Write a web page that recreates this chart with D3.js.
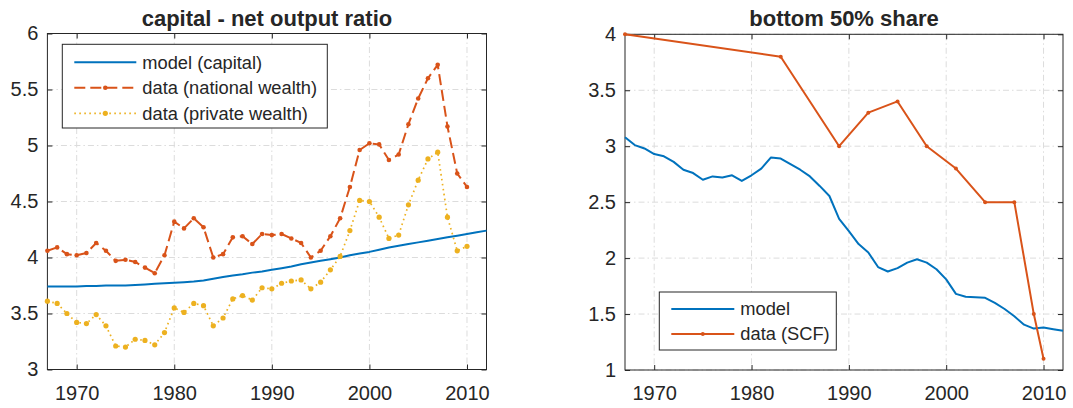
<!DOCTYPE html>
<html>
<head>
<meta charset="utf-8">
<script src="https://cdn.jsdelivr.net/npm/d3@7/dist/d3.min.js"></script>
<style>
  body { margin: 0; background: #fff; }
  svg text { font-family: "Liberation Sans", Arial, Helvetica, sans-serif; fill: #262626; }
</style>
</head>
<body>
<svg id="fig" width="1073" height="408"></svg>
<script>
// years 1967..2012 (model), 1967..2010 (data)
var modelYears = d3.range(1967, 2013);
var dataYears = d3.range(1967, 2011);

// left panel: capital - net output ratio
var capitalModel = [3.74,3.74,3.74,3.74,3.745,3.745,3.75,3.75,3.75,3.755,
    3.76,3.765,3.77,3.775,3.78,3.785,3.795,3.81,3.825,3.84,
    3.85,3.865,3.875,3.89,3.905,3.92,3.94,3.955,3.97,3.985,
    4.0,4.02,4.035,4.05,4.07,4.09,4.105,4.12,4.135,4.15,
    4.165,4.18,4.195,4.21,4.225,4.24];
var nationalWealth = [4.06,4.09,4.03,4.02,4.04,4.13,4.06,3.97,3.98,3.96,
    3.91,3.86,4.02,4.32,4.26,4.35,4.27,4.00,4.03,4.18,
    4.19,4.12,4.21,4.20,4.21,4.17,4.13,4.00,4.06,4.19,
    4.35,4.63,4.96,5.02,5.01,4.87,4.92,5.19,5.42,5.60,
    5.72,5.17,4.75,4.63];
var privateWealth = [3.61,3.59,3.50,3.42,3.41,3.49,3.39,3.21,3.20,3.27,
    3.26,3.22,3.33,3.55,3.51,3.59,3.57,3.39,3.46,3.63,
    3.66,3.62,3.73,3.72,3.77,3.79,3.80,3.72,3.78,3.89,
    4.01,4.24,4.51,4.50,4.36,4.17,4.20,4.47,4.69,4.88,
    4.94,4.36,4.06,4.10];

// right panel: bottom 50% share
var bottomModel = [3.08,3.01,2.98,2.93,2.91,2.86,2.79,2.76,2.70,2.73,
    2.72,2.74,2.69,2.74,2.80,2.90,2.89,2.84,2.79,2.73,
    2.645,2.555,2.35,2.24,2.125,2.05,1.92,1.88,1.91,1.96,
    1.99,1.96,1.90,1.81,1.68,1.655,1.65,1.645,1.60,1.545,
    1.48,1.405,1.37,1.38,1.365,1.35];
var scfYears = [1967,1983,1989,1992,1995,1998,2001,2004,2007,2009,2010];
var scfShare = [4.0,3.8,3.0,3.3,3.4,3.0,2.8,2.5,2.5,1.5,1.1];

var xTicks = [1970,1980,1990,2000,2010];
var leftYTicks = [3,3.5,4,4.5,5,5.5,6];
var rightYTicks = [1,1.5,2,2.5,3,3.5,4];

var blue = "#0072BD", orange = "#D95319", yellow = "#EDB120";
var axisColor = "#262626", gridColor = "#dcdcdc";
var tickFont = 20, legendFont = 18.3, titleFont = 22;

var svg = d3.select("#fig");

function makePanel(opt) {
    var x = d3.scaleLinear().domain([1967, 2012]).range([opt.left, opt.right]);
    var y = d3.scaleLinear().domain(opt.yDomain).range([opt.bottom, opt.top]);
    var g = svg.append("g");

    // grid (dash-dot)
    g.selectAll(".vgrid").data(xTicks).enter().append("line")
        .attr("x1", d => x(d)).attr("x2", d => x(d))
        .attr("y1", opt.top).attr("y2", opt.bottom)
        .attr("stroke", gridColor).attr("stroke-width", 1)
        .attr("stroke-dasharray", "6,3,1.5,3");
    g.selectAll(".hgrid").data(opt.yTicks).enter().append("line")
        .attr("x1", opt.left).attr("x2", opt.right)
        .attr("y1", d => y(d)).attr("y2", d => y(d))
        .attr("stroke", gridColor).attr("stroke-width", 1)
        .attr("stroke-dasharray", "6,3,1.5,3");

    // axes: ticks inward on all four sides
    var xAxis = d3.axisBottom(x).tickValues(xTicks).tickFormat(d3.format("d"))
        .tickSizeInner(-5).tickSizeOuter(0).tickPadding(16);
    var yAxis = d3.axisLeft(y).tickValues(opt.yTicks).tickFormat(d3.format("~g"))
        .tickSizeInner(-5).tickSizeOuter(0).tickPadding(9);
    var xTop = d3.axisTop(x).tickValues(xTicks).tickFormat("").tickSizeInner(-5).tickSizeOuter(0);
    var yRight = d3.axisRight(y).tickValues(opt.yTicks).tickFormat("").tickSizeInner(-5).tickSizeOuter(0);

    var axes = [
        [xAxis, "translate(0," + opt.bottom + ")"],
        [yAxis, "translate(" + opt.left + ",0)"],
        [xTop, "translate(0," + opt.top + ")"],
        [yRight, "translate(" + opt.right + ",0)"]
    ];
    axes.forEach(function (a) {
        var ag = g.append("g").attr("transform", a[1]).call(a[0]);
        ag.select(".domain").remove();
        ag.selectAll("line").attr("stroke", axisColor);
        ag.selectAll("text").attr("font-size", tickFont).attr("fill", axisColor)
            .style("font-family", "'Liberation Sans', Arial, sans-serif");
    });

    g.append("rect")
        .attr("x", opt.left).attr("y", opt.top)
        .attr("width", opt.right - opt.left).attr("height", opt.bottom - opt.top)
        .attr("fill", "none").attr("stroke", axisColor).attr("stroke-width", 1);

    g.append("text")
        .attr("x", (opt.left + opt.right) / 2).attr("y", 26)
        .attr("text-anchor", "middle")
        .attr("font-size", titleFont).attr("font-weight", "bold")
        .attr("fill", "#000")
        .text(opt.title);

    return { g: g, x: x, y: y };
}

function drawSeries(p, xs, ys, style) {
    var line = d3.line().x((d, i) => p.x(xs[i])).y(d => p.y(d));
    p.g.append("path").datum(ys)
        .attr("d", line)
        .attr("fill", "none")
        .attr("stroke", style.color)
        .attr("stroke-width", style.width || 2)
        .attr("stroke-dasharray", style.dash || null)
        .attr("stroke-linejoin", "round");
    if (style.marker) {
        p.g.selectAll(null).data(ys).enter().append("circle")
            .attr("cx", (d, i) => p.x(xs[i]))
            .attr("cy", d => p.y(d))
            .attr("r", style.marker)
            .attr("fill", style.color);
    }
}

function drawLegend(p, box, items) {
    var lg = p.g.append("g");
    lg.append("rect")
        .attr("x", box.x).attr("y", box.y).attr("width", box.w).attr("height", box.h)
        .attr("fill", "#fff").attr("stroke", axisColor).attr("stroke-width", 1);
    items.forEach(function (it, i) {
        var cy = box.y + box.first + i * box.step;
        lg.append("line")
            .attr("x1", box.x + 12).attr("x2", box.x + 12 + box.lineLen)
            .attr("y1", cy).attr("y2", cy)
            .attr("stroke", it.color).attr("stroke-width", it.width || 2)
            .attr("stroke-dasharray", it.dash || null);
        if (it.marker) {
            lg.append("circle")
                .attr("cx", box.x + 12 + box.lineLen / 2).attr("cy", cy)
                .attr("r", it.marker).attr("fill", it.color);
        }
        lg.append("text")
            .attr("x", box.x + 12 + box.lineLen + 6).attr("y", cy)
            .attr("dy", "0.35em")
            .attr("font-size", legendFont)
            .text(it.label);
    });
}

// left panel
var left = makePanel({
    left: 47.4, right: 486.5, top: 33.5, bottom: 369.5,
    yDomain: [3, 6], yTicks: leftYTicks,
    title: "capital - net output ratio"
});
drawSeries(left, modelYears, capitalModel, { color: blue });
drawSeries(left, dataYears, nationalWealth, { color: orange, dash: "11,5", marker: 2.3 });
drawSeries(left, dataYears, privateWealth, { color: yellow, dash: "1.6,3.4", width: 1.7, marker: 2.6 });
drawLegend(left, { x: 62.3, y: 44.3, w: 265, h: 83.7, first: 18, step: 25.5, lineLen: 62 }, [
    { label: "model (capital)", color: blue },
    { label: "data (national wealth)", color: orange, dash: "11,5", marker: 2.3 },
    { label: "data (private wealth)", color: yellow, dash: "1.6,3.4", width: 1.7, marker: 2.6 }
]);

// right panel
var right = makePanel({
    left: 625, right: 1063, top: 34.3, bottom: 370,
    yDomain: [1, 4], yTicks: rightYTicks,
    title: "bottom 50% share"
});
drawSeries(right, modelYears, bottomModel, { color: blue });
drawSeries(right, scfYears, scfShare, { color: orange, marker: 2 });
drawLegend(right, { x: 659.3, y: 292, w: 177, h: 58, first: 17, step: 25, lineLen: 63 }, [
    { label: "model", color: blue },
    { label: "data (SCF)", color: orange, marker: 2 }
]);
</script>
</body>
</html>
